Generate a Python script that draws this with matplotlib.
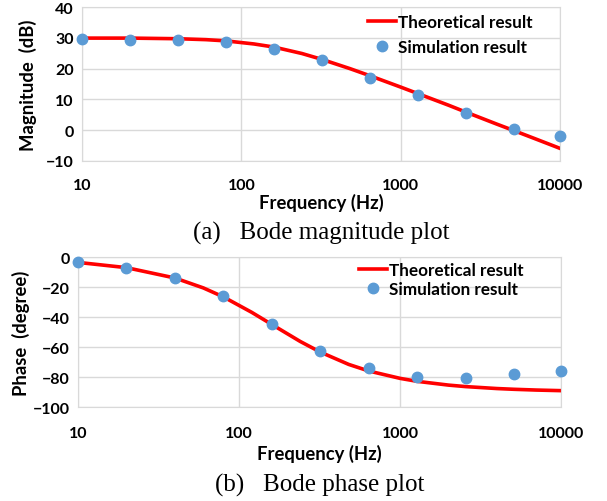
import matplotlib
matplotlib.use("Agg")
import matplotlib.pyplot as plt

# simulation points
sim_freq = [10, 20, 40, 80, 160, 320, 640, 1280, 2560, 5120, 10000]
sim_mag = [29.5, 29.3, 29.2, 28.6, 26.5, 22.7, 17.1, 11.3, 5.6, 0.5, -2.0]
sim_phase = [-3.5, -7.0, -14.0, -26.0, -44.5, -62.5, -74.0, -80.0, -80.5, -78.0, -76.0]

# theoretical curve
th_freq = [10, 20, 40, 60, 80, 120, 160, 240, 320, 480, 640, 1000, 1280,
           2000, 2560, 4000, 5120, 7000, 10000]
th_mag = [29.9, 29.9, 29.7, 29.4, 29.0, 28.0, 27.0, 24.9, 23.0, 20.0, 17.7,
          14.0, 11.9, 8.1, 5.9, 2.0, -0.1, -2.8, -5.9]
th_phase = [-3.6, -7.1, -14.0, -20.6, -26.6, -36.9, -45.0, -56.3, -63.4,
            -71.6, -76.0, -80.9, -82.9, -85.4, -86.4, -87.7, -88.2, -88.7, -89.1]

plt.rcParams['font.family'] = ['Lato', 'DejaVu Sans']
plt.rcParams['font.weight'] = 'bold'

fig = plt.figure(figsize=(6.07, 5.02), dpi=100)
W, H = 607, 502

ax1 = fig.add_axes([82 / W, 1 - 162 / H, (560 - 82) / W, (162 - 8) / H])
ax2 = fig.add_axes([78 / W, 1 - 408 / H, (561 - 78) / W, (408 - 258) / H])

red = '#FF0000'
blue = '#5B9BD5'
grid = '#D9D9D9'

panels = [
    (ax1, th_mag, sim_mag, 'Magnitude  (dB)', (-10, 40), range(-10, 41, 10),
     12, (-0.205, -0.095), (532, 15, 0.5)),
    (ax2, th_phase, sim_phase, 'Phase  (degree)', (-100, 0), range(-100, 1, 20),
     14, (-0.245, -0.10), (523, 263, 0.2)),
]

for ax, th, sim, ylab, ylim, yticks, xpad, lab_pos, leg_pos in panels:
    ax.plot(th_freq, th, color=red, lw=2.6, label='Theoretical result', zorder=2)
    ax.plot(sim_freq, sim, 'o', color=blue, ms=7.5, label='Simulation result',
            zorder=3, clip_on=False)
    ax.set_xscale('log')
    ax.set_xlim(10, 10000)
    ax.set_ylim(*ylim)
    ax.set_yticks(list(yticks))
    ax.set_xticks([10, 100, 1000, 10000])
    ax.set_xticklabels(['10', '100', '1000', '10000'])
    ax.minorticks_off()
    ax.grid(True, color=grid, lw=1)
    ax.set_axisbelow(True)
    for s in ax.spines.values():
        s.set_color(grid)
    ax.tick_params(length=0, labelsize=11.5, pad=6)
    ax.tick_params(axis='x', pad=xpad)
    ax.set_ylabel(ylab, fontsize=13.3, fontweight='bold')
    ax.set_xlabel('Frequency (Hz)', fontsize=13.3, fontweight='bold')
    ax.xaxis.set_label_coords(0.5, lab_pos[0])
    ax.yaxis.set_label_coords(lab_pos[1], 0.5)
    ax.legend(loc='upper right', bbox_to_anchor=(leg_pos[0] / W, 1 - leg_pos[1] / H),
              bbox_transform=fig.transFigure, frameon=False, fontsize=12.3,
              handlelength=1.6, handletextpad=0.1, labelspacing=leg_pos[2],
              borderpad=0, borderaxespad=0)

fig.text(321 / W, 1 - 233 / H, '(a)   Bode magnitude plot', ha='center', va='center',
         family='Liberation Serif', fontweight='normal', fontsize=18)
fig.text(320 / W, 1 - 485 / H, '(b)   Bode phase plot', ha='center', va='center',
         family='Liberation Serif', fontweight='normal', fontsize=18)

fig.savefig('out.png', dpi=100)
